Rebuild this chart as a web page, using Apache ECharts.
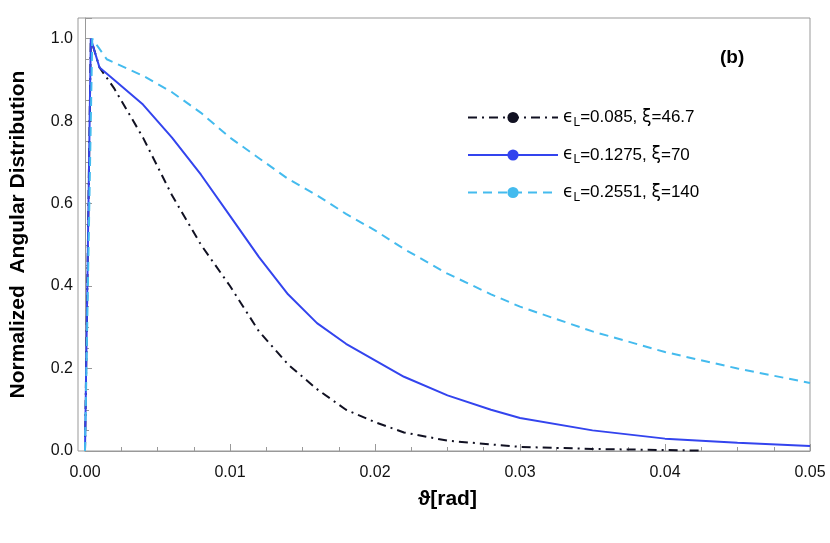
<!DOCTYPE html>
<html><head><meta charset="utf-8">
<script src="https://cdn.jsdelivr.net/npm/echarts@6/dist/echarts.min.js"></script>
<style>body{margin:0}#c{width:830px;height:543px}</style></head>
<body><div id="c"></div>
<script>
const blackData = [[0,0],[0.0004,1.0],[0.001,0.93],[0.002,0.88],[0.004,0.76],[0.006,0.62],[0.008,0.5],[0.01,0.4],[0.012,0.29],[0.014,0.21],[0.016,0.15],[0.018,0.1],[0.02,0.07],[0.022,0.045],[0.025,0.025],[0.03,0.01],[0.035,0.005],[0.0425,0.001]];
const blueData = [[0,0],[0.0004,1.0],[0.001,0.93],[0.002,0.9],[0.004,0.84],[0.006,0.76],[0.008,0.67],[0.01,0.57],[0.012,0.47],[0.014,0.38],[0.016,0.31],[0.018,0.26],[0.02,0.22],[0.022,0.18],[0.025,0.135],[0.028,0.1],[0.03,0.08],[0.035,0.05],[0.04,0.03],[0.045,0.02],[0.05,0.012]];
const cyanData = [[0,0],[0.0005,1.0],[0.0015,0.95],[0.004,0.91],[0.006,0.87],[0.008,0.82],[0.01,0.76],[0.012,0.71],[0.014,0.66],[0.016,0.62],[0.018,0.575],[0.02,0.535],[0.022,0.49],[0.025,0.43],[0.028,0.38],[0.03,0.35],[0.035,0.29],[0.04,0.24],[0.045,0.2],[0.05,0.165]];
const legendLabels = {
  a: '{e|ϵ}{s|L}=0.085, {e|ξ}=46.7',
  b: '{e|ϵ}{s|L}=0.1275, {e|ξ}=70',
  c: '{e|ϵ}{s|L}=0.2551, {e|ξ}=140'
};

const chart = echarts.init(document.getElementById('c'));
const axisCommon = {
  axisLine: { lineStyle: { color: '#999' } },
  axisTick: { inside: true, length: 7, lineStyle: { color: '#999' } },
  minorTick: { show: true, splitNumber: 4, length: 4, lineStyle: { color: '#999' } },
  splitLine: { show: false },
  axisLabel: { color: '#111', fontSize: 16, fontFamily: 'Liberation Sans' }
};
chart.setOption({
  animation: false,
  grid: { left: 78, right: 20, top: 18, bottom: 92 },
  xAxis: Object.assign({}, axisCommon, {
    type: 'value', min: 0, max: 0.05, interval: 0.01,
    name: 'ϑ[rad]', nameLocation: 'middle', nameGap: 38,
    nameTextStyle: { fontSize: 21, fontWeight: 'bold', color: '#000', fontFamily: 'Liberation Sans' },
    axisLabel: Object.assign({}, axisCommon.axisLabel, { margin: 14, formatter: v => v.toFixed(2) })
  }),
  yAxis: Object.assign({}, axisCommon, {
    type: 'value', min: 0, max: 1.05, interval: 0.2,
    name: 'Normalized  Angular Distribution', nameLocation: 'middle', nameGap: 56,
    nameTextStyle: { fontSize: 21, fontWeight: 'bold', color: '#000', fontFamily: 'Liberation Sans' },
    axisLabel: Object.assign({}, axisCommon.axisLabel, { margin: 12,
      formatter: v => (Math.abs(v * 5 - Math.round(v * 5)) < 1e-6 ? v.toFixed(1) : '') })
  }),
  legend: {
    orient: 'vertical', left: 462, top: 104, itemWidth: 90, itemHeight: 14, itemGap: 18,
    selectedMode: false,
    formatter: n => legendLabels[n],
    textStyle: { fontSize: 17, color: '#000', fontFamily: 'Liberation Sans',
      rich: { e: { fontSize: 17, fontFamily: 'DejaVu Sans' }, s: { fontSize: 12, verticalAlign: 'bottom', padding: [10, 0, 0, 0] } } }
  },
  graphic: [
    { type: 'text', left: 720, top: 48, style: { text: '(b)', font: 'bold 19px Liberation Sans', fill: '#000' } },
    { type: 'rect', shape: { x: 78, y: 18, width: 732, height: 433 }, style: { fill: 'none', stroke: '#999', lineWidth: 1 }, silent: true }
  ],
  series: [
    { name: 'a', type: 'line', data: blackData, symbol: 'none', color: '#111122',
      lineStyle: { width: 2, type: [9, 5, 2, 5] } },
    { name: 'b', type: 'line', data: blueData, symbol: 'none', color: '#3344ee',
      lineStyle: { width: 2 } },
    { name: 'c', type: 'line', data: cyanData, symbol: 'none', color: '#44bbee',
      lineStyle: { width: 2, type: [9, 6] } }
  ]
});
</script></body></html>
